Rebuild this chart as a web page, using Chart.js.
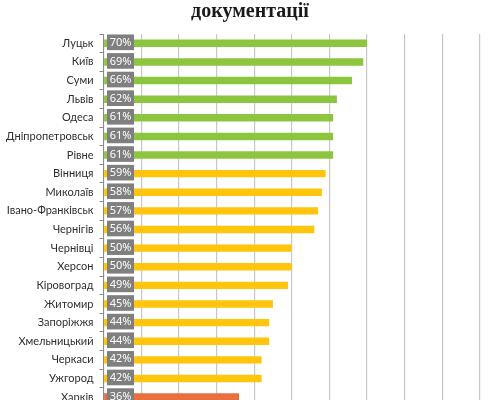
<!DOCTYPE html>
<html>
<head>
<meta charset="utf-8">
<script src="https://cdn.jsdelivr.net/npm/chart.js@4.4.1/dist/chart.umd.min.js"></script>
<style>
html,body{margin:0;padding:0;background:#fff;overflow:hidden;}
#wrap{width:500px;height:419px;position:relative;}
</style>
</head>
<body>
<div id="wrap"><canvas id="c"></canvas></div>
<script>
const titleText = "документації";
const categories = ["Луцьк","Київ","Суми","Львів","Одеса","Дніпропетровськ","Рівне","Вінниця","Миколаїв","Івано-Франківськ","Чернігів","Чернівці","Херсон","Кіровоград","Житомир","Запоріжжя","Хмельницький","Черкаси","Ужгород","Харків"];
const values = [70,69,66,62,61,61,61,59,58,57,56,50,50,49,45,44,44,42,42,36];
const groups = ["g","g","g","g","g","g","g","y","y","y","y","y","y","y","y","y","y","y","y","o"];
const groupColors = {g:"#8cc63f", y:"#ffc40c", o:"#e96f3f"};
const xTicks = [0,10,20,30,40,50,60,70,80,90,100];

const labelBoxes = {
  id: "labelBoxes",
  afterDatasetsDraw(chart) {
    const ctx = chart.ctx;
    const xs = chart.scales.x, ys = chart.scales.y;
    const band = ys.getPixelForValue(1) - ys.getPixelForValue(0);
    const x0 = xs.getPixelForValue(0);
    ctx.save();
    values.forEach((v, i) => {
      const yc = ys.getPixelForValue(i);
      const h = band * 0.84;
      ctx.fillStyle = "#7f7f7f";
      ctx.fillRect(x0 + 3.5, yc - h / 2 - 1, 27, h);
      ctx.fillStyle = "#ffffff";
      ctx.font = "11px 'Noto Sans'";
      ctx.textAlign = "center";
      ctx.textBaseline = "middle";
      ctx.fillText(v + "%", x0 + 17, yc - 0.5);
    });
    ctx.restore();
  },
  afterDraw(chart) {
    const ctx = chart.ctx;
    ctx.save();
    ctx.fillStyle = "#1a1a1a";
    ctx.font = "bold 20px 'Liberation Serif'";
    ctx.textAlign = "center";
    ctx.textBaseline = "middle";
    ctx.fillText(titleText, chart.width / 2, 12);
    ctx.restore();
  }
};

new Chart(document.getElementById("c"), {
  type: "bar",
  data: {
    labels: categories,
    datasets: [{
      data: values,
      backgroundColor: groups.map(g => groupColors[g]),
      categoryPercentage: 1,
      barPercentage: 0.4
    }]
  },
  options: {
    indexAxis: "y",
    responsive: true,
    maintainAspectRatio: false,
    animation: false,
    layout: { padding: { left: 0, right: 20, top: 34, bottom: 0 } },
    plugins: {
      legend: { display: false },
      tooltip: { enabled: false },
      title: { display: false }
    },
    scales: {
      x: {
        min: 0, max: 100,
        afterBuildTicks(scale) { scale.ticks = xTicks.map(v => ({ value: v })); },
        afterFit(scale) { scale.height = 0; },
        ticks: { display: false },
        border: { display: false },
        grid: { color: "#c8c8c8", lineWidth: 1.2, drawTicks: false }
      },
      y: {
        afterFit(scale) { scale.width = 103.5; },
        ticks: { color: "#2e2e2e", padding: 6, font: { family: "Lato", size: 11 } },
        border: { display: true, color: "#8a8a8a", width: 1 },
        grid: { offset: true, drawOnChartArea: false, drawTicks: true, tickLength: 4, color: "#8a8a8a" }
      }
    }
  },
  plugins: [labelBoxes]
});
</script>
</body>
</html>
